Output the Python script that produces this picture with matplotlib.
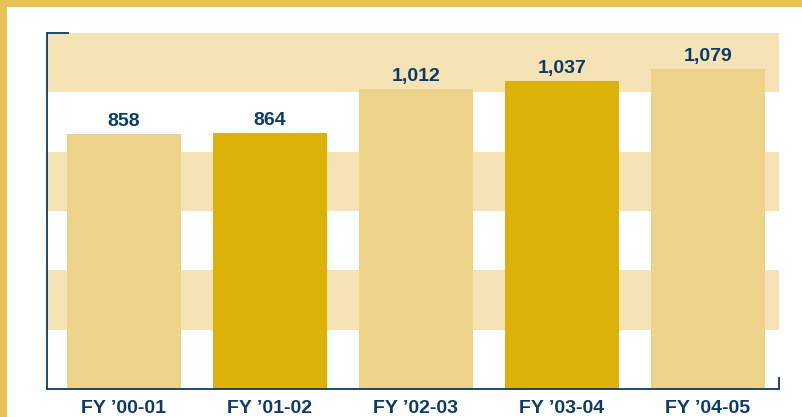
import matplotlib.pyplot as plt
from matplotlib.patches import Rectangle

years = ["FY \u201900-01", "FY \u201901-02", "FY \u201902-03", "FY \u201903-04", "FY \u201904-05"]
values = [858, 864, 1012, 1037, 1079]
bar_colors = ["#EDD28A", "#DCB208", "#EDD28A", "#DCB208", "#EDD28A"]
band_ranges = [(200, 400), (600, 800), (1000, 1200)]

navy = "#0B3A6B"
band = "#F5E3B5"
gold = "#E6C354"

plt.rcParams["font.family"] = ["Liberation Sans", "DejaVu Sans"]

fig = plt.figure(figsize=(8.03, 4.17), dpi=100)
fig.patch.set_facecolor("white")

# gold frame on top and left edge
fig.patches.append(Rectangle((0, 1 - 7 / 417), 1, 7 / 417, transform=fig.transFigure,
                             facecolor=gold, edgecolor="none", zorder=0))
fig.patches.append(Rectangle((0, 0), 7 / 803, 1, transform=fig.transFigure,
                             facecolor=gold, edgecolor="none", zorder=0))

ax = fig.add_axes([47 / 803, 28 / 417, 732 / 803, 356 / 417])
ax.set_facecolor("white")

for lo, hi in band_ranges:
    ax.axhspan(lo, hi, color=band, lw=0, zorder=0)

x = range(len(years))
bars = ax.bar(x, values, width=0.78, color=bar_colors, zorder=2)

for rect, v in zip(bars, values):
    ax.annotate(f"{v:,}", (rect.get_x() + rect.get_width() / 2, rect.get_height()),
                xytext=(0, 3), textcoords="offset points", ha="center", va="bottom",
                fontsize=14, fontweight="bold", color=navy)

ax.set_xlim(-0.527, 4.486)
ax.set_ylim(0, 1200)
ax.set_xticks(list(x))
ax.set_xticklabels(years, fontsize=14, fontweight="bold", color=navy)
ax.tick_params(axis="x", length=0, pad=8)
ax.set_yticks([])

for s in ["top", "right"]:
    ax.spines[s].set_visible(False)
for s in ["left", "bottom"]:
    ax.spines[s].set_color(navy)
    ax.spines[s].set_linewidth(1.3)

# small corner ticks
ax.plot([0, 22 / 732], [1, 1], transform=ax.transAxes, color=navy, lw=1.3,
        clip_on=False, solid_capstyle="butt")
ax.plot([1, 1], [0, 12 / 356], transform=ax.transAxes, color=navy, lw=1.3,
        clip_on=False, solid_capstyle="butt")

fig.savefig("out.png", dpi=100, facecolor=fig.get_facecolor())
